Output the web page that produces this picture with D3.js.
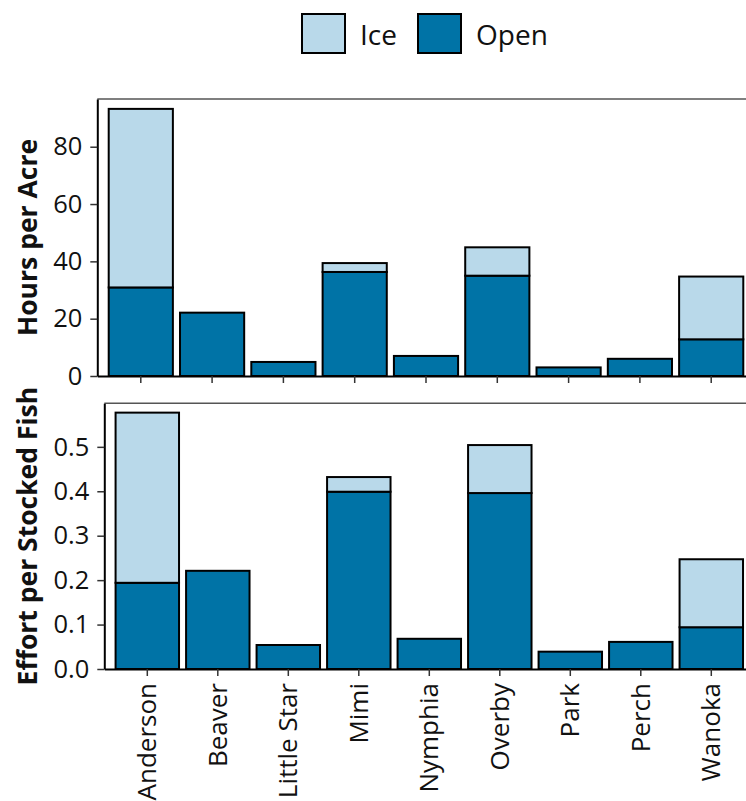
<!DOCTYPE html>
<html>
<head>
<meta charset="utf-8">
<script src="https://cdn.jsdelivr.net/npm/d3@7"></script>
<style>
  html, body { margin: 0; padding: 0; background: #fff; overflow: hidden; }
  svg { display: block; }
  text { font-family: "Open Sans", "Noto Sans", sans-serif; fill: #111; }
</style>
</head>
<body>
<svg id="chart" width="746" height="801"></svg>
<script>
// ---- data ----
const lakes = ["Anderson", "Beaver", "Little Star", "Mimi", "Nymphia", "Overby", "Park", "Perch", "Wanoka"];
const seasons = ["Ice", "Open"];
const hoursOpen = [30.9, 22.1, 4.9, 36.3, 7.0, 35.0, 3.0, 6.0, 12.8];
const hoursIce  = [62.3, 0, 0, 3.1, 0, 9.9, 0, 0, 21.9];
const effortOpen = [0.194, 0.221, 0.054, 0.399, 0.068, 0.396, 0.039, 0.061, 0.094];
const effortIce  = [0.383, 0, 0, 0.033, 0, 0.108, 0, 0, 0.153];
const hoursTicks = [0, 20, 40, 60, 80];
const effortTicks = [0, 0.1, 0.2, 0.3, 0.4, 0.5];

const colors = { Ice: "#b9d9ea", Open: "#0073a6" };
const svg = d3.select("#chart");

function panel(cfg) {
  const g = svg.append("g");
  const x = d3.scaleBand().domain(lakes).range([cfg.left, cfg.right])
    .paddingInner(0.1).paddingOuter(0.16);
  const y = d3.scaleLinear().domain([0, cfg.ymax]).range([cfg.bottom, cfg.top]);

  // top spine
  g.append("line").attr("x1", cfg.left).attr("x2", cfg.right)
    .attr("y1", cfg.top).attr("y2", cfg.top)
    .attr("stroke", "#555").attr("stroke-width", 1.5);

  const stacked = lakes.map((l, i) => ({ lake: l, open: cfg.open[i], ice: cfg.ice[i] }));
  // open bars
  g.selectAll("rect.open").data(stacked).join("rect")
    .attr("class", "open")
    .attr("x", d => x(d.lake)).attr("width", x.bandwidth())
    .attr("y", d => y(d.open)).attr("height", d => y(0) - y(d.open))
    .attr("fill", colors.Open).attr("stroke", "#000").attr("stroke-width", 2);
  // ice bars
  g.selectAll("rect.ice").data(stacked.filter(d => d.ice > 0)).join("rect")
    .attr("class", "ice")
    .attr("x", d => x(d.lake)).attr("width", x.bandwidth())
    .attr("y", d => y(d.open + d.ice)).attr("height", d => y(d.open) - y(d.open + d.ice))
    .attr("fill", colors.Ice).attr("stroke", "#000").attr("stroke-width", 2);

  // y axis
  const ya = g.append("g").attr("transform", `translate(${cfg.left},0)`)
    .call(d3.axisLeft(y).tickValues(cfg.ticks).tickFormat(cfg.fmt).tickSize(7).tickPadding(8).tickSizeOuter(0));
  ya.select(".domain").attr("stroke", "#000").attr("stroke-width", 2);
  ya.selectAll(".tick line").attr("stroke", "#333").attr("stroke-width", 1.5);
  ya.selectAll(".tick text").style("font-size", "25.5px").attr("fill", "#111");

  // x axis
  const xa = g.append("g").attr("transform", `translate(0,${cfg.bottom})`)
    .call(d3.axisBottom(x).tickSize(7).tickPadding(8).tickSizeOuter(0));
  xa.select(".domain").attr("stroke", "#000").attr("stroke-width", 2);
  xa.selectAll(".tick line").attr("stroke", "#333").attr("stroke-width", 1.5);
  if (cfg.labels) {
    xa.selectAll(".tick text")
      .style("font-size", "26px").attr("fill", "#111")
      .attr("transform", "rotate(-90)")
      .attr("text-anchor", "end")
      .attr("x", -14).attr("y", 0).attr("dy", "0.35em");
  } else {
    xa.selectAll(".tick text").remove();
  }

  // y title
  g.append("text")
    .attr("transform", `translate(${cfg.titleX},${(cfg.top + cfg.bottom) / 2}) rotate(-90)`)
    .attr("text-anchor", "middle")
    .style("font-size", "26.5px").style("font-weight", "bold")
    .text(cfg.title);
}

panel({ left: 97.3, right: 754.7, top: 99, bottom: 376, ymax: 96.65,
  open: hoursOpen, ice: hoursIce, ticks: hoursTicks, fmt: d3.format("d"),
  labels: false, title: "Hours per Acre", titleX: 37 });

panel({ left: 104.3, right: 754.3, top: 403.3, bottom: 669, ymax: 0.598,
  open: effortOpen, ice: effortIce, ticks: effortTicks, fmt: d3.format(".1f"),
  labels: true, title: "Effort per Stocked Fish", titleX: 37 });

// legend
const legend = svg.append("g");
const legX = [302, 418];
seasons.forEach((s, i) => {
  legend.append("rect").attr("x", legX[i]).attr("y", 14).attr("width", 43).attr("height", 39)
    .attr("fill", colors[s]).attr("stroke", "#000").attr("stroke-width", 2);
  legend.append("text").attr("x", legX[i] + 58).attr("y", 45)
    .style("font-size", "28px").text(s);
});
</script>
</body>
</html>
